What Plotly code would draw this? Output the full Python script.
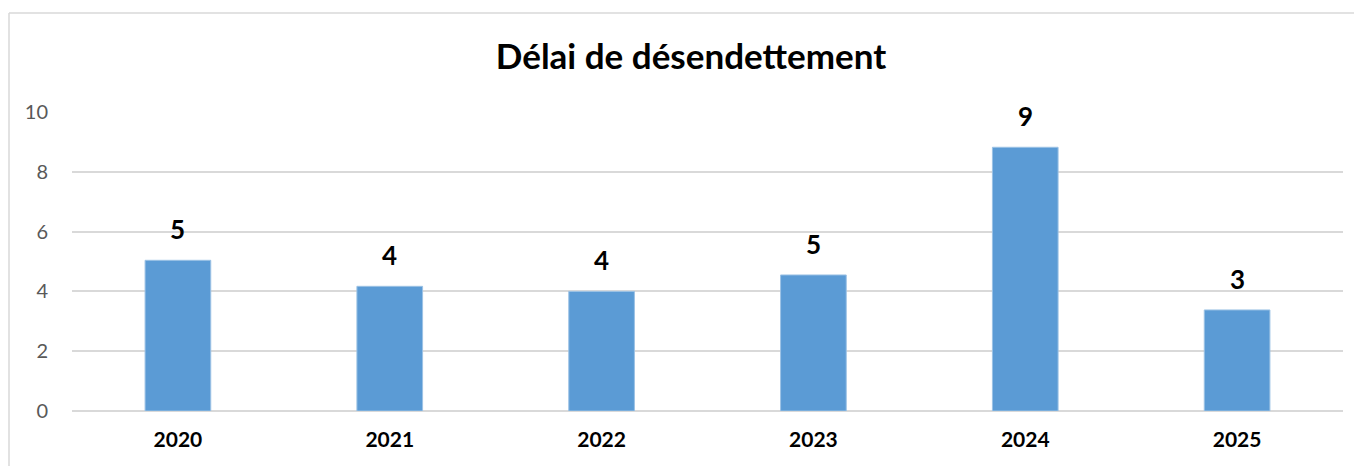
import plotly.graph_objects as go

years = ["2020", "2021", "2022", "2023", "2024", "2025"]
values = [5.04, 4.17, 4.0, 4.55, 8.82, 3.38]
labels = [str(int(round(v))) for v in values]
y_ticks = [0, 2, 4, 6, 8, 10]
title_text = "Délai de désendettement"

W, H = 1362, 466
L, R, T, B = 64, 27, 104, 63

fig = go.Figure()
fig.add_trace(go.Bar(
    x=years, y=values, width=0.31,
    marker=dict(color="#5b9bd5", line=dict(color="#9cc2e5", width=1)),
    hoverinfo="x+y",
))
for i, (v, lab) in enumerate(zip(values, labels)):
    fig.add_annotation(x=i, y=v, text=lab, showarrow=False, yanchor="bottom",
                       yshift=13, font=dict(family="Lato", size=26, color="#000000", weight="bold"))

pw, ph = W - L - R, H - T - B
fig.add_shape(type="line", xref="paper", yref="paper",
              x0=(1 - L) / pw, x1=(1 - L) / pw, y0=(H - B - 5) / ph, y1=-B / ph - 0.05,
              line=dict(color="#d9d9d9", width=1.5))
fig.add_shape(type="line", xref="paper", yref="paper",
              x0=(1 - L) / pw, x1=(W + 5 - L) / pw, y0=(H - B - 5) / ph, y1=(H - B - 5) / ph,
              line=dict(color="#d9d9d9", width=1.5))

fig.update_layout(
    width=W, height=H,
    margin=dict(l=L, r=R, t=T, b=B, autoexpand=False),
    paper_bgcolor="white", plot_bgcolor="white",
    showlegend=False,
    title=dict(text=title_text, x=683 / W, xanchor="center", y=1 - 49 / H, yanchor="middle",
               xref="container", yref="container",
               font=dict(family="Lato", size=35, color="#000000", weight="bold")),
    xaxis=dict(type="category", range=[-0.5, len(years) - 0.5],
               tickfont=dict(family="Lato", size=21, color="#000000", weight="bold"),
               showgrid=False, showline=False, ticks="", ticklabelstandoff=14, automargin=False),
    yaxis=dict(range=[0, 10], tickvals=y_ticks, showgrid=True, gridcolor="#d9d9d9", gridwidth=1.5,
               zeroline=True, zerolinecolor="#d9d9d9", zerolinewidth=1.5,
               tickfont=dict(family="Lato", size=20, color="#595959"),
               ticks="", ticklabelstandoff=23, automargin=False),
    bargap=0.69,
)

fig.write_html("out.html")
